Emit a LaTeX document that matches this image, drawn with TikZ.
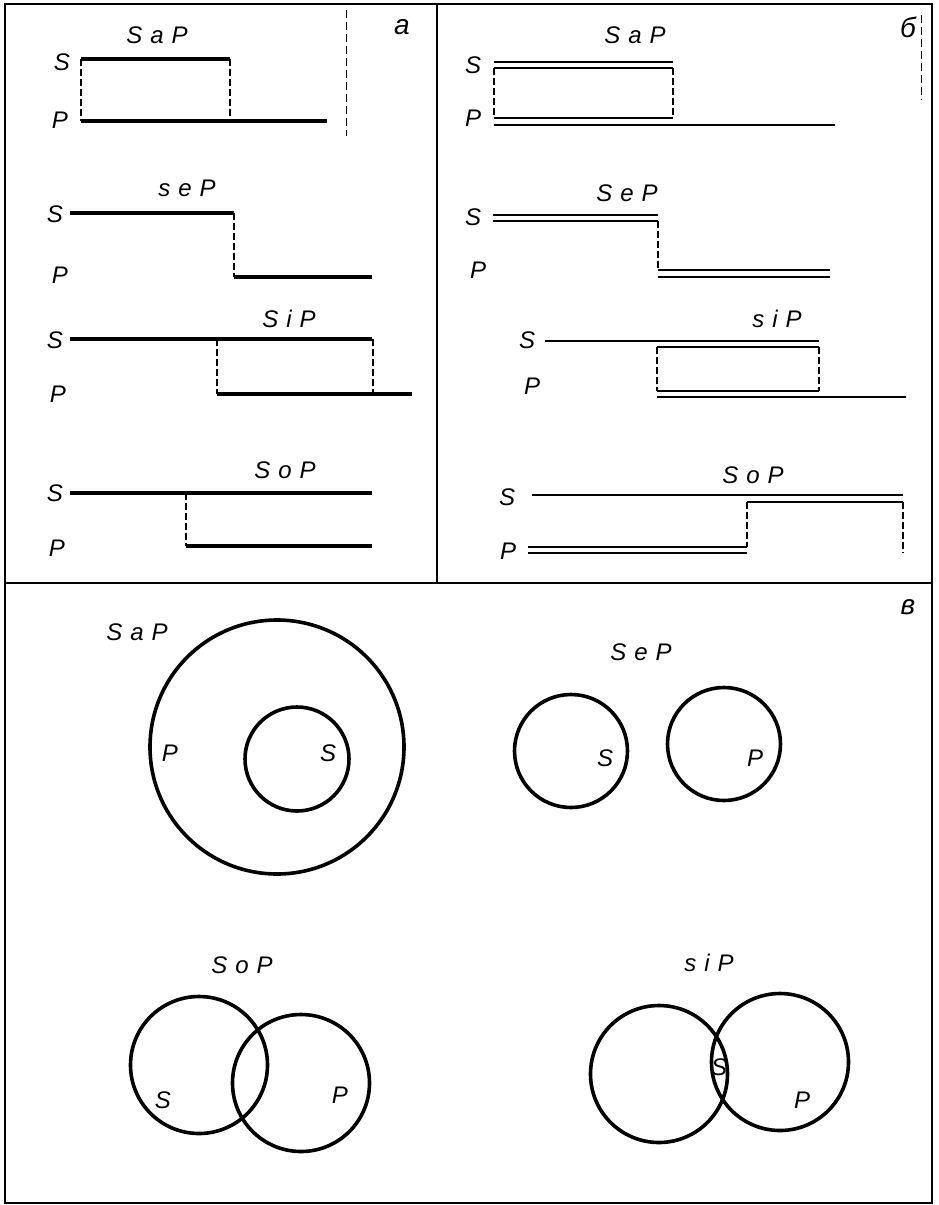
\documentclass[tikz,border=0pt]{standalone}
\usepackage{fontspec}
\setmainfont{Liberation Sans}
\begin{document}
\begin{tikzpicture}[x=1pt,y=-1pt,
  lab/.style={font=\itshape\fontsize{24}{24}\selectfont, inner sep=0pt},
  ttl/.style={font=\itshape\fontsize{24}{24}\selectfont, inner sep=0pt},
  pan/.style={font=\itshape\fontsize{28}{28}\selectfont, inner sep=0pt},
  heavy/.style={line width=3.4pt},
  dbl/.style={line width=2.8pt},
  dsh/.style={line width=1.7pt, dash pattern=on 7pt off 3pt},
  frm/.style={line width=1.7pt},
  circ/.style={line width=3.6pt},
  faint/.style={line width=0.9pt, dash pattern=on 8pt off 4pt}]
\useasboundingbox (0,0) rectangle (938,1205);
% frame
\draw[frm] (5,4) rectangle (932,1203);
\draw[frm] (437,4) -- (437,583);
\draw[frm] (5,583) -- (932,583);

% ---------- panel a ----------
\node[pan] (ta) at (402,27) {а};
\draw[faint] (346,10) -- (346,136);
% SaP
\node[ttl] (la1) at (157,35) {S\,\,a\,\,P};
\node[lab] (sa1) at (62,62) {S};
\node[lab] (pa1) at (60,120) {P};
\draw[heavy] (81,59) -- (230,59);
\draw[heavy] (81,121) -- (327,121);
\draw[dsh] (81,59) -- (81,121);
\draw[dsh] (230,59) -- (230,121);
% SeP
\node[ttl] (la2) at (187,188) {s\,\,e\,\,P};
\node[lab] (sa2) at (55,214) {S};
\node[lab] (pa2) at (60,275) {P};
\draw[heavy] (70,213) -- (234,213);
\draw[dsh] (234,213) -- (234,277);
\draw[heavy] (234,277) -- (372,277);
% SiP
\node[ttl] (la3) at (289,319) {S\,\,i\,\,P};
\node[lab] (sa3) at (55,340) {S};
\node[lab] (pa3) at (58,394) {P};
\draw[heavy] (70,339) -- (372,339);
\draw[dsh] (217,339) -- (217,394);
\draw[dsh] (373,339) -- (373,394);
\draw[heavy] (217,394) -- (412,394);
% SoP
\node[ttl] (la4) at (285,470) {S\,\,o\,\,P};
\node[lab] (sa4) at (55,493) {S};
\node[lab] (pa4) at (57,548) {P};
\draw[heavy] (70,493) -- (372,493);
\draw[dsh] (186,493) -- (186,546);
\draw[heavy] (186,546) -- (372,546);

% ---------- panel b ----------
\node[pan] (tb) at (908,27) {б};
\draw[faint] (921,15) -- (921,100);
% SaP
\node[ttl] (lb1) at (635,35) {S\,\,a\,\,P};
\node[lab] (sb1) at (473,65) {S};
\node[lab] (pb1) at (473,118) {P};
\draw[dbl] (494,62) -- (673,62);
\draw[dbl] (494,68) -- (673,68);
\draw[dbl] (494,118) -- (673,118);
\draw[dsh] (494,68) -- (494,118);
\draw[dsh] (673,68) -- (673,118);
\draw[dbl] (494,125) -- (835,125);
% SeP
\node[ttl] (lb2) at (627,193) {S\,\,e\,\,P};
\node[lab] (sb2) at (473,217) {S};
\node[lab] (pb2) at (478,270) {P};
\draw[dbl] (493,215) -- (658,215);
\draw[dbl] (493,221) -- (658,221);
\draw[dsh] (658,221) -- (658,270);
\draw[dbl] (658,270) -- (830,270);
\draw[dbl] (658,277) -- (830,277);
% SiP
\node[ttl] (lb3) at (777,319) {s\,\,i\,\,P};
\node[lab] (sb3) at (527,340) {S};
\node[lab] (pb3) at (532,386) {P};
\draw[dbl] (545,341) -- (819,341);
\draw[dbl] (657,347) -- (819,347);
\draw[dbl] (657,391) -- (819,391);
\draw[dsh] (657,347) -- (657,391);
\draw[dsh] (819,347) -- (819,391);
\draw[dbl] (657,397) -- (906,397);
% SoP
\node[ttl] (lb4) at (753,475) {S\,\,o\,\,P};
\node[lab] (sb4) at (507,497) {S};
\node[lab] (pb4) at (508,551) {P};
\draw[dbl] (532,495) -- (903,495);
\draw[dbl] (747,502) -- (903,502);
\draw[dsh] (747,502) -- (747,547);
\draw[dsh] (903,502) -- (903,553);
\draw[dbl] (528,547) -- (747,547);
\draw[dbl] (528,553) -- (747,553);

% ---------- panel v ----------
\node[pan] (tv) at (908,607) {в};
% SaP
\node[ttl] (lv1) at (137,632) {S\,\,a\,\,P};
\node[circ,draw,circle,minimum size=254pt] (cP1) at (277,747) {};
\node[circ,draw,circle,minimum size=104pt] (cS1) at (297,759) {};
\node[lab] (pv1) at (170,753) {P};
\node[lab] (sv1) at (328,753) {S};
% SeP
\node[ttl] (lv2) at (641,652) {S\,\,e\,\,P};
\node[circ,draw,circle,minimum size=113pt] (cS2) at (571,751) {};
\node[circ,draw,circle,minimum size=113pt] (cP2) at (724,744) {};
\node[lab] (sv2) at (605,758) {S};
\node[lab] (pv2) at (755,758) {P};
% SoP
\node[ttl] (lv3) at (242,965) {S\,\,o\,\,P};
\node[circ,draw,circle,minimum size=137pt] (cS3) at (199,1065) {};
\node[circ,draw,circle,minimum size=137pt] (cP3) at (301,1083) {};
\node[lab] (sv3) at (163,1100) {S};
\node[lab] (pv3) at (340,1095) {P};
% SiP
\node[ttl] (lv4) at (709,963) {s\,\,i\,\,P};
\node[circ,draw,circle,minimum size=137pt] (cS4) at (659,1074) {};
\node[circ,draw,circle,minimum size=137pt] (cP4) at (780,1062) {};
\node[lab] (sv4) at (719,1067) {S};
\node[lab] (pv4) at (802,1100) {P};
\end{tikzpicture}
\end{document}
